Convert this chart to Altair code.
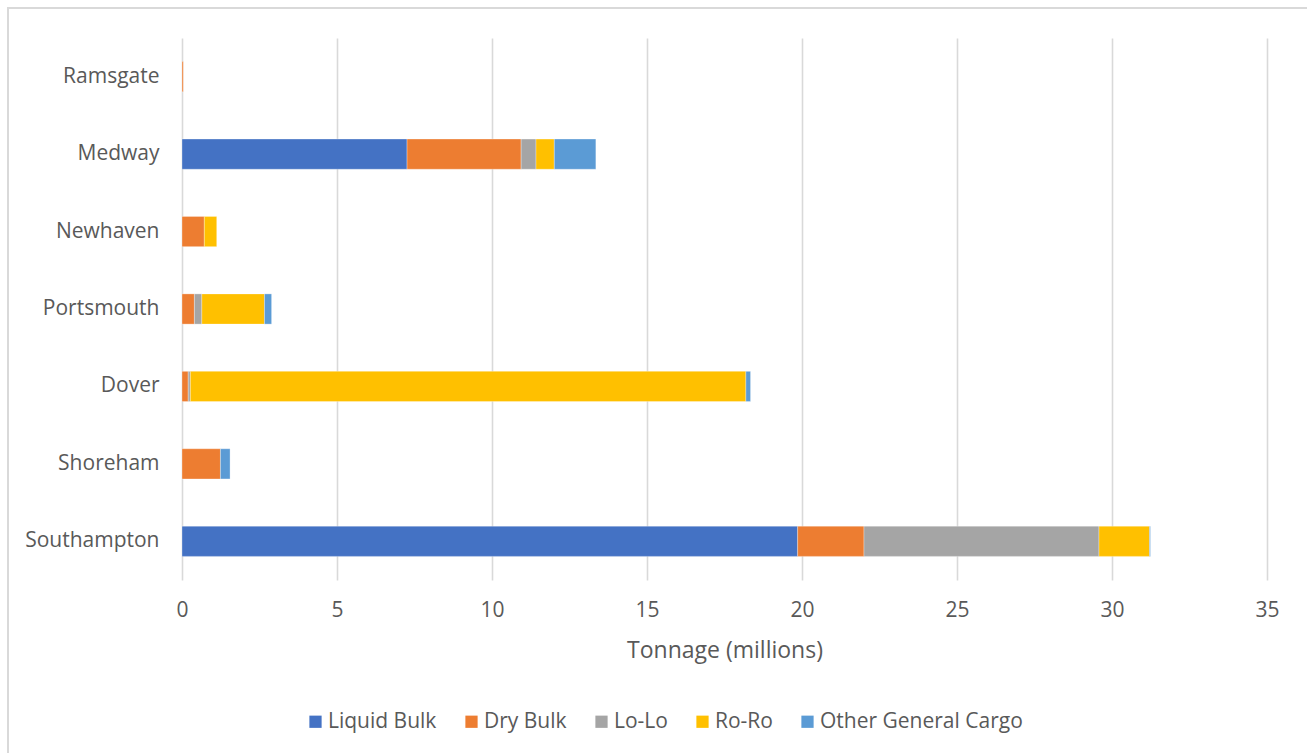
import altair as alt
import pandas as pd

# Ports, top to bottom
ports = ["Ramsgate", "Medway", "Newhaven", "Portsmouth", "Dover", "Shoreham", "Southampton"]

# Cargo categories in stacking order
cargo_types = ["Liquid Bulk", "Dry Bulk", "Lo-Lo", "Ro-Ro", "Other General Cargo"]
cargo_colors = ["#4472C4", "#ED7D31", "#A5A5A5", "#FFC000", "#5B9BD5"]

# Tonnage (millions) per port, one list per cargo type (same order as ports)
liquid_bulk = [0.00, 7.26, 0.00, 0.00, 0.00, 0.00, 19.86]
dry_bulk    = [0.04, 3.68, 0.72, 0.40, 0.20, 1.24, 2.14]
lo_lo       = [0.00, 0.48, 0.00, 0.24, 0.07, 0.00, 7.58]
ro_ro       = [0.00, 0.59, 0.40, 2.02, 17.92, 0.00, 1.63]
other_gc    = [0.00, 1.34, 0.00, 0.23, 0.15, 0.31, 0.03]

series = [liquid_bulk, dry_bulk, lo_lo, ro_ro, other_gc]

rows = []
for k, (name, values) in enumerate(zip(cargo_types, series)):
    for port, v in zip(ports, values):
        if v > 0:
            rows.append({"Port": port, "Cargo": name, "Tonnage": v, "order": k})
df = pd.DataFrame(rows)

FONT = "Open Sans"
TEXT = "#595959"
GRID = "#D9D9D9"

PLOT_W, PLOT_H = 1085, 542
LEFT, TOP = 182, 38

bars = alt.Chart(df).mark_bar(stroke="white", strokeWidth=0.6, strokeOpacity=0.5).encode(
    x=alt.X(
        "Tonnage:Q",
        stack="zero",
        scale=alt.Scale(domain=[0, 35], nice=False),
        axis=alt.Axis(
            values=list(range(0, 36, 5)),
            title="Tonnage (millions)",
            grid=True,
            gridColor=GRID,
            gridWidth=1.6,
            domain=False,
            ticks=False,
            labelFlush=False,
            labelFont=FONT,
            labelFontSize=21,
            labelColor=TEXT,
            labelPadding=19,
            titleFont=FONT,
            titleFontSize=23,
            titleFontWeight="normal",
            titleColor=TEXT,
            titlePadding=19,
        ),
    ),
    y=alt.Y(
        "Port:N",
        sort=ports,
        scale=alt.Scale(paddingInner=0.61, paddingOuter=0.305),
        axis=alt.Axis(
            title=None,
            domain=False,
            ticks=False,
            grid=False,
            labelFont=FONT,
            labelFontSize=21,
            labelColor=TEXT,
            labelPadding=23,
        ),
    ),
    color=alt.Color(
        "Cargo:N",
        sort=cargo_types,
        scale=alt.Scale(domain=cargo_types, range=cargo_colors),
        legend=alt.Legend(
            title=None,
            orient="none",
            direction="horizontal",
            legendX=123,
            legendY=673,
            symbolType="square",
            symbolSize=150,
            symbolStrokeWidth=0,
            labelFont=FONT,
            labelFontSize=21,
            labelColor=TEXT,
            labelOffset=2,
            labelLimit=400,
            columnPadding=24,
            padding=0,
        ),
    ),
    order=alt.Order("order:Q"),
)

# Light frame around the whole chart
frame = alt.Chart(pd.DataFrame({"f": [0]})).mark_rect(
    fill=None, stroke=GRID, strokeWidth=2
).encode(
    x=alt.value(8 - LEFT),
    x2=alt.value(1320 - LEFT),
    y=alt.value(8 - TOP),
    y2=alt.value(770 - TOP),
)

chart = alt.layer(frame, bars).properties(
    width=PLOT_W,
    height=PLOT_H,
    autosize=alt.AutoSizeParams(type="none"),
    padding={"left": LEFT, "top": TOP, "right": 1307 - LEFT - PLOT_W, "bottom": 753 - TOP - PLOT_H},
    background="white",
).configure_view(stroke=None)

chart.save("out.html", embed_options={"renderer": "svg", "actions": False})
